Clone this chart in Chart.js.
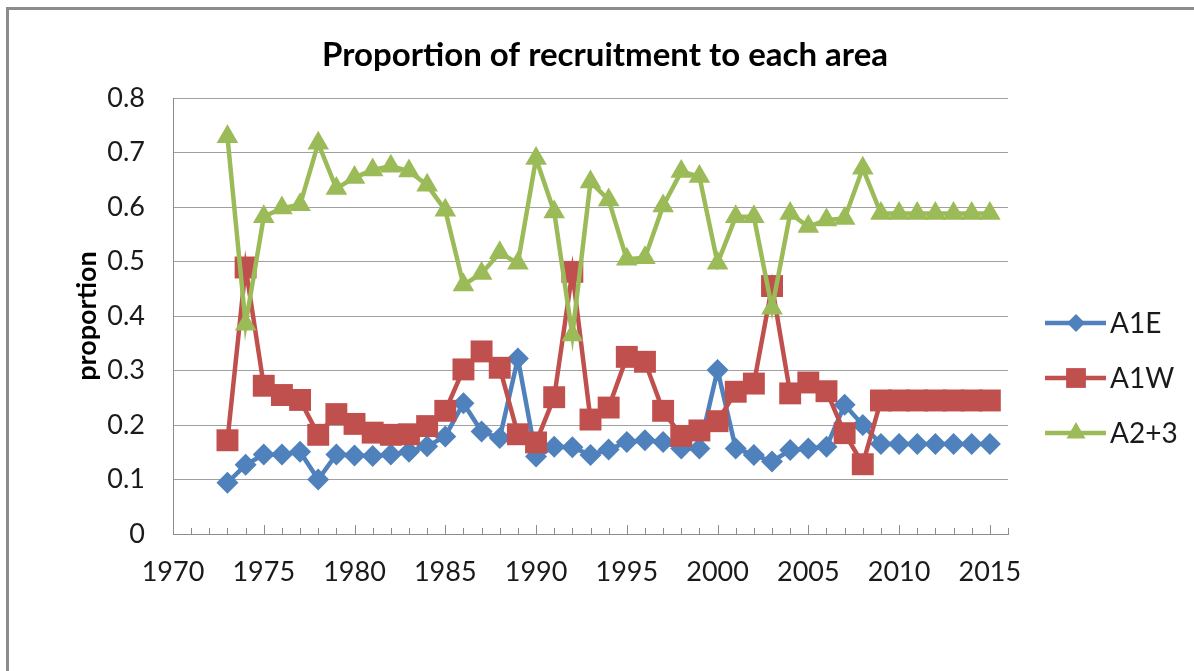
<!DOCTYPE html>
<html>
<head>
<meta charset="utf-8">
<script src="https://cdn.jsdelivr.net/npm/chart.js@4/dist/chart.umd.min.js"></script>
<style>
  html, body { margin: 0; padding: 0; background: #fff; }
  #frame { position: absolute; left: 6px; top: 7px; width: 1200px; height: 700px;
           border-left: 3px solid #8c8c8c; border-top: 3px solid #8c8c8c; }
  #wrap { position: absolute; left: 0; top: 0; width: 1194px; height: 671px; }
</style>
</head>
<body>
<div id="frame"></div>
<div id="wrap"><canvas id="chart" width="1194" height="671"></canvas></div>
<script>
var years = [1973, 1974, 1975, 1976, 1977, 1978, 1979, 1980, 1981, 1982, 1983, 1984, 1985,
  1986, 1987, 1988, 1989, 1990, 1991, 1992, 1993, 1994, 1995, 1996, 1997, 1998, 1999,
  2000, 2001, 2002, 2003, 2004, 2005, 2006, 2007, 2008, 2009, 2010, 2011, 2012, 2013, 2014, 2015];
var a1e = [0.094, 0.127, 0.146, 0.146, 0.151, 0.100, 0.146, 0.144, 0.143, 0.146, 0.151, 0.161, 0.179,
  0.240, 0.188, 0.176, 0.322, 0.142, 0.160, 0.159, 0.145, 0.155, 0.169, 0.172, 0.169, 0.157, 0.157,
  0.301, 0.157, 0.145, 0.133, 0.154, 0.157, 0.160, 0.237, 0.200, 0.165, 0.165, 0.165, 0.165, 0.165, 0.165, 0.165];
var a1w = [0.172, 0.489, 0.272, 0.255, 0.246, 0.182, 0.220, 0.202, 0.186, 0.182, 0.183, 0.198, 0.226,
  0.302, 0.335, 0.305, 0.183, 0.168, 0.251, 0.481, 0.210, 0.232, 0.325, 0.316, 0.226, 0.180, 0.190,
  0.207, 0.261, 0.276, 0.455, 0.258, 0.278, 0.262, 0.185, 0.128, 0.245, 0.245, 0.245, 0.245, 0.245, 0.245, 0.245];
var a23 = [0.729, 0.385, 0.582, 0.598, 0.604, 0.717, 0.634, 0.654, 0.668, 0.675, 0.666, 0.640, 0.594,
  0.457, 0.478, 0.516, 0.497, 0.689, 0.591, 0.365, 0.646, 0.613, 0.504, 0.507, 0.602, 0.665, 0.656,
  0.497, 0.582, 0.582, 0.414, 0.588, 0.564, 0.576, 0.579, 0.671, 0.588, 0.588, 0.588, 0.588, 0.588, 0.588, 0.588];
var seriesNames = ['A1E', 'A1W', 'A2+3'];
var xMin = 1970, xMax = 2016;
var yTicks = [0, 0.1, 0.2, 0.3, 0.4, 0.5, 0.6, 0.7, 0.8];
var chartTitle = 'Proportion of recruitment to each area';

function pts(vals) {
  return years.map(function (y, i) { return { x: y, y: vals[i] }; });
}

var FONT = 'Lato, "Open Sans", sans-serif';

// title, inward x tick marks and the legend drawn on the canvas
var extras = {
  id: 'extras',
  beforeDatasetsDraw: function (chart) {
    var ctx = chart.ctx, xs = chart.scales.x, bottom = chart.chartArea.bottom;
    ctx.save();
    ctx.strokeStyle = '#8c8c8c';
    ctx.lineWidth = 1;
    xs.ticks.forEach(function (t) {
      var px = Math.round(xs.getPixelForValue(t.value)) + 0.5;
      var len = (t.value % 5 === 0) ? 9 : 6;
      ctx.beginPath();
      ctx.moveTo(px, bottom);
      ctx.lineTo(px, bottom - len);
      ctx.stroke();
    });
    ctx.restore();
  },
  afterDraw: function (chart) {
    var ctx = chart.ctx;
    ctx.save();
    ctx.fillStyle = '#000';
    ctx.font = 'bold 33px ' + FONT;
    ctx.textAlign = 'center';
    ctx.textBaseline = 'middle';
    ctx.fillText(chartTitle, 605, 55);

    var ly = [323, 378, 433];
    chart.data.datasets.forEach(function (ds, i) {
      var y = ly[i];
      ctx.strokeStyle = ds.borderColor;
      ctx.lineWidth = ds.borderWidth;
      ctx.beginPath();
      ctx.moveTo(1045, y);
      ctx.lineTo(1106, y);
      ctx.stroke();
      ctx.fillStyle = ds.backgroundColor;
      Chart.helpers.drawPoint(ctx, { pointStyle: ds.pointStyle, radius: ds.legendRadius, borderWidth: 0 }, 1076, y);
      ctx.fillStyle = '#1a1a1a';
      ctx.font = '28px ' + FONT;
      ctx.textAlign = 'left';
      ctx.textBaseline = 'middle';
      ctx.fillText(ds.label, 1110, y + 1);
    });
    ctx.restore();
  }
};

var ctx = document.getElementById('chart');
var chart = new Chart(ctx, {
  type: 'line',
  data: {
    datasets: [
      {
        label: seriesNames[0], data: pts(a1e), order: 3,
        borderColor: '#4F81BD', backgroundColor: '#4F81BD', borderWidth: 4.5,
        pointStyle: 'rectRot', pointRadius: 11, pointBorderWidth: 0, legendRadius: 9
      },
      {
        label: seriesNames[1], data: pts(a1w), order: 2,
        borderColor: '#C0504D', backgroundColor: '#C0504D', borderWidth: 4.5,
        pointStyle: 'rect', pointRadius: 15.5, pointBorderWidth: 0, legendRadius: 14
      },
      {
        label: seriesNames[2], data: pts(a23), order: 1,
        borderColor: '#9BBB59', backgroundColor: '#9BBB59', borderWidth: 4.5,
        pointStyle: 'triangle', pointRadius: 12.5, pointBorderWidth: 0, legendRadius: 11
      }
    ]
  },
  options: {
    responsive: false,
    animation: false,
    layout: { padding: { left: 71, right: 186, top: 98, bottom: 0 } },
    plugins: {
      legend: { display: false },
      title: { display: false },
      tooltip: { enabled: false }
    },
    elements: { line: { tension: 0 } },
    scales: {
      x: {
        type: 'linear', min: xMin, max: xMax,
        afterFit: function (s) { s.height = 137; },
        grid: { display: false, drawTicks: false },
        border: { display: true, color: '#8c8c8c', width: 1 },
        ticks: {
          stepSize: 1, autoSkip: false, maxRotation: 0, padding: 22,
          color: '#1a1a1a', font: { family: FONT, size: 27 },
          callback: function (v) { return v % 5 === 0 ? String(v) : ''; }
        }
      },
      y: {
        min: 0, max: 0.8,
        afterFit: function (s) { s.width = 102; },
        afterBuildTicks: function (s) { s.ticks = yTicks.map(function (v) { return { value: v }; }); },
        grid: { color: '#a0a0a0', lineWidth: 1, drawTicks: false },
        border: { display: true, color: '#8c8c8c', width: 1 },
        title: {
          display: true, text: 'proportion', color: '#000',
          font: { family: FONT, size: 27, weight: 'bold' }, padding: { top: 0, bottom: 0 }
        },
        ticks: {
          padding: 28, color: '#1a1a1a', font: { family: FONT, size: 27 },
          callback: function (v) { return String(Math.round(v * 10) / 10); }
        }
      }
    }
  },
  plugins: [extras]
});
</script>
</body>
</html>
